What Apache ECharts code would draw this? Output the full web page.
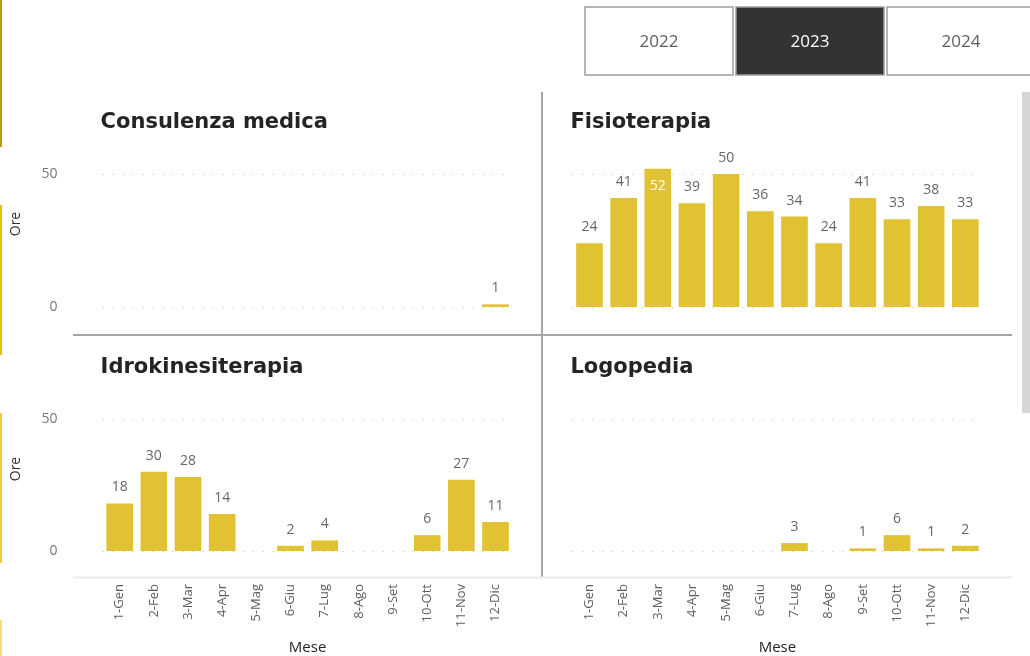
<!DOCTYPE html>
<html>
<head>
<meta charset="utf-8">
<script src="https://cdn.jsdelivr.net/npm/echarts@6/dist/echarts.min.js"></script>
<style>
    html, body { margin: 0; padding: 0; background: #fff; }
    #main { width: 1030px; height: 656px; }
</style>
</head>
<body>
<div id="main"></div>
<script>
// dati del grafico (ore per mese, anno 2023)
var mesi = ['1-Gen', '2-Feb', '3-Mar', '4-Apr', '5-Mag', '6-Giu', '7-Lug', '8-Ago', '9-Set', '10-Ott', '11-Nov', '12-Dic'];
var anni = ['2022', '2023', '2024'];
var annoScelto = '2023';
var yTicks = [0, 50];

var consulenzaMedica = [null, null, null, null, null, null, null, null, null, null, null, 1];
var fisioterapia = [24, 41, 52, 39, 50, 36, 34, 24, 41, 33, 38, 33];
var idrokinesiterapia = [18, 30, 28, 14, null, 2, 4, null, null, 6, 27, 11];
var logopedia = [null, null, null, null, null, null, 3, null, 1, 6, 1, 2];

var pannelli = [
    { titolo: 'Consulenza medica', dati: consulenzaMedica },
    { titolo: 'Fisioterapia', dati: fisioterapia },
    { titolo: 'Idrokinesiterapia', dati: idrokinesiterapia },
    { titolo: 'Logopedia', dati: logopedia }
];

// posizione dei quattro riquadri
var griglie = [
    { left: 102.6, top: 174, height: 133 },
    { left: 572.4, top: 174, height: 133 },
    { left: 102.6, top: 419, height: 132 },
    { left: 572.4, top: 419, height: 132 }
];

var giallo = '#E1C233';
var grigioTesto = '#605E5C';
var font = '"Open Sans", "DejaVu Sans", sans-serif';
var fontTitolo = '"DejaVu Sans", sans-serif';
var yMax = yTicks[yTicks.length - 1];

var option = {
    animation: false,
    backgroundColor: '#fff',
    textStyle: { fontFamily: font },
    title: [],
    grid: [],
    xAxis: [],
    yAxis: [],
    series: [],
    graphic: []
};

pannelli.forEach(function(p, i) {
    var g = griglie[i];
    var inBasso = i >= 2;
    var aSinistra = i % 2 === 0;

    option.title.push({
        text: p.titolo,
        left: g.left - 2,
        top: g.top - 62,
        padding: 0,
        textStyle: { fontFamily: fontTitolo, fontWeight: 'bold', fontSize: 21, color: '#252423' }
    });

    option.grid.push({ left: g.left, top: g.top, width: 410, height: g.height });

    option.xAxis.push({
        type: 'category',
        gridIndex: i,
        data: mesi,
        axisLine: { show: false },
        axisTick: { show: false },
        axisLabel: { show: inBasso, rotate: 90, margin: 33, fontSize: 13, color: grigioTesto, fontFamily: font },
        name: inBasso ? 'Mese' : '',
        nameLocation: 'middle',
        nameGap: 89,
        nameTextStyle: { fontSize: 15, color: '#252423', fontFamily: font }
    });

    option.yAxis.push({
        type: 'value',
        gridIndex: i,
        min: yTicks[0],
        max: yMax,
        interval: yTicks[1] - yTicks[0],
        axisLine: { show: false },
        axisTick: { show: false },
        axisLabel: { show: aSinistra, margin: 45, fontSize: 14, color: '#777', fontFamily: font },
        splitLine: { lineStyle: { color: '#BDBDBD', width: 1, type: [1, 9] } }
    });

    option.series.push({
        type: 'bar',
        xAxisIndex: i,
        yAxisIndex: i,
        barWidth: '78%',
        clip: false,
        itemStyle: { color: giallo },
        label: {
            show: true,
            position: 'top',
            distance: 9,
            fontSize: 14,
            color: '#666',
            fontFamily: font
        },
        // il valore oltre il massimo dell'asse ha l'etichetta dentro la barra
        data: p.dati.map(function(v) {
            if (v != null && v > yMax) {
                return { value: v, label: { position: 'insideTop', distance: 10, color: '#fff' } };
            }
            return v;
        })
    });
});

// etichette "Ore" ruotate
[224, 469].forEach(function(y) {
    option.graphic.push({
        type: 'text', x: 16, y: y, rotation: Math.PI / 2,
        style: { text: 'Ore', fontSize: 14, fill: '#333', fontFamily: font, align: 'center', verticalAlign: 'middle' }
    });
});

// pulsanti anno
anni.forEach(function(a, i) {
    var x = 585 + i * 151;
    var attivo = a === annoScelto;
    option.graphic.push({
        type: 'rect',
        shape: { x: x, y: 7, width: 148, height: 68 },
        style: { fill: attivo ? '#333333' : '#fff', stroke: '#9E9E9E', lineWidth: 1.5 }
    });
    option.graphic.push({
        type: 'text', x: x + 74, y: 42,
        style: { text: a, fontSize: 17, fill: attivo ? '#fff' : grigioTesto, fontFamily: font, align: 'center', verticalAlign: 'middle' }
    });
});

// linee di separazione
option.graphic.push(
    { type: 'line', shape: { x1: 73, y1: 335, x2: 1012, y2: 335 }, style: { stroke: '#A6A6A6', lineWidth: 2 } },
    { type: 'line', shape: { x1: 542, y1: 92, x2: 542, y2: 578 }, style: { stroke: '#A6A6A6', lineWidth: 2 } },
    { type: 'line', shape: { x1: 73, y1: 577.5, x2: 1012, y2: 577.5 }, style: { stroke: '#ECECEC', lineWidth: 2 } },
    // barra di scorrimento
    { type: 'rect', shape: { x: 1022, y: 92, width: 8, height: 321 }, style: { fill: '#D6D6D6' } },
    // bordi gialli a sinistra
    { type: 'rect', shape: { x: 0, y: 0, width: 2, height: 147 }, style: { fill: '#B49E10' } },
    { type: 'rect', shape: { x: 0, y: 205, width: 2, height: 150 }, style: { fill: '#E6C200' } },
    { type: 'rect', shape: { x: 0, y: 413, width: 2, height: 150 }, style: { fill: '#EDCF4A' } },
    { type: 'rect', shape: { x: 0, y: 620, width: 2, height: 36 }, style: { fill: '#F2DD7C' } }
);

var myChart = echarts.init(document.getElementById('main'));
myChart.setOption(option);
</script>
</body>
</html>
